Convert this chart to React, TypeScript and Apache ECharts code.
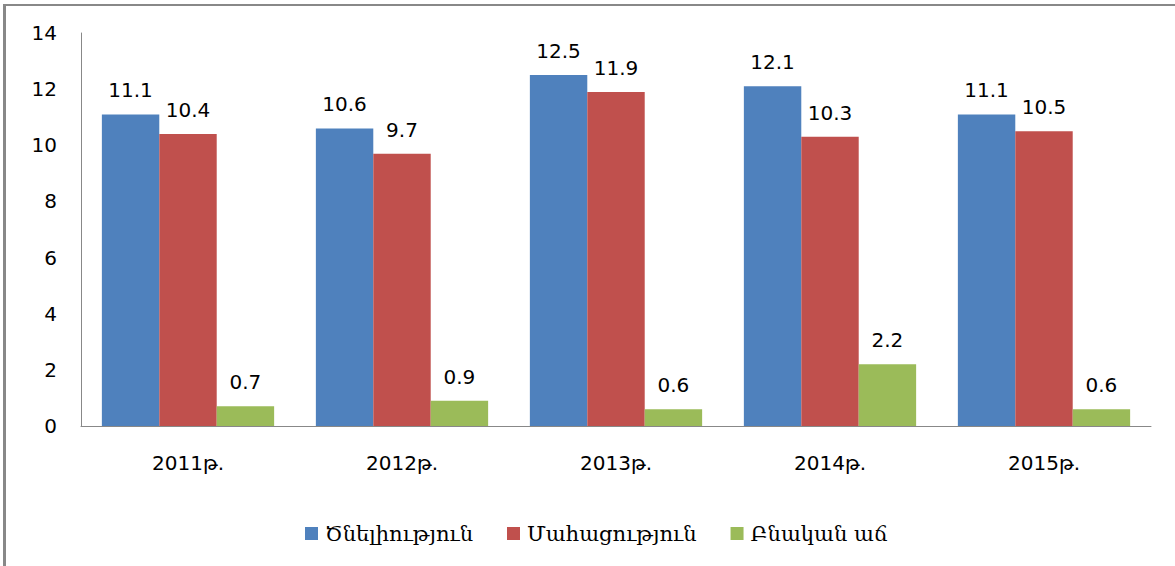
import React, { useEffect, useRef } from "react";
import * as echarts from "echarts";

const categories = ["2011թ.", "2012թ.", "2013թ.", "2014թ.", "2015թ."];
const births = [11.1, 10.6, 12.5, 12.1, 11.1];
const deaths = [10.4, 9.7, 11.9, 10.3, 10.5];
const natural = [0.7, 0.9, 0.6, 2.2, 0.6];
const seriesNames = ["Ծնելիություն", "Մահացություն", "Բնական աճ"];
const colors = ["#4F81BD", "#C0504D", "#9BBB59"];

export default function App() {
  const ref = useRef<HTMLDivElement>(null);
  useEffect(() => {
    document.body.style.margin = "0";
    const chart = echarts.init(ref.current!, null, { renderer: "svg" });
    const font = "DejaVu Sans";
    const label = {
      show: true,
      position: "top",
      distance: 14,
      color: "#000",
      fontSize: 20,
      fontFamily: font,
      formatter: (p: any) => p.value.toFixed(1),
    };
    const mk = (name: string, data: number[], color: string) => ({
      name,
      type: "bar",
      data,
      itemStyle: { color },
      barGap: "0%",
      barCategoryGap: "19.5%",
      label,
    });
    chart.setOption({
      animation: false,
      backgroundColor: "#fff",
      grid: { left: 81, right: 24, top: 33, bottom: 140 },
      legend: {
        top: 518,
        left: 300,
        itemWidth: 13,
        itemHeight: 13,
        itemGap: 34,
        icon: "rect",
        textStyle: { fontSize: 21, color: "#000", fontFamily: "DejaVu Serif", padding: [0, 0, 0, 2] },
        data: seriesNames,
      },
      xAxis: {
        type: "category",
        data: categories,
        axisLine: { lineStyle: { color: "#888" } },
        axisTick: { show: false },
        axisLabel: { color: "#000", fontSize: 20, fontFamily: font, margin: 27 },
      },
      yAxis: {
        type: "value",
        min: 0,
        max: 14,
        interval: 2,
        splitLine: { show: false },
        axisLine: { show: true, lineStyle: { color: "#888" } },
        axisTick: { show: false },
        axisLabel: { color: "#000", fontSize: 20, fontFamily: font, margin: 24 },
      },
      series: [
        mk(seriesNames[0], births, colors[0]),
        mk(seriesNames[1], deaths, colors[1]),
        mk(seriesNames[2], natural, colors[2]),
      ],
    });
    return () => chart.dispose();
  }, []);
  return (
    <div style={{ position: "absolute", left: 0, top: 0, width: 1175, height: 566, background: "#fff" }}>
      <div ref={ref} style={{ width: 1175, height: 566 }} />
      <div
        style={{
          position: "absolute",
          left: 3,
          top: 4,
          width: 1172,
          height: 562,
          borderLeft: "3px solid #888",
          borderTop: "2px solid #888",
          boxSizing: "border-box",
          pointerEvents: "none",
        }}
      />
    </div>
  );
}
